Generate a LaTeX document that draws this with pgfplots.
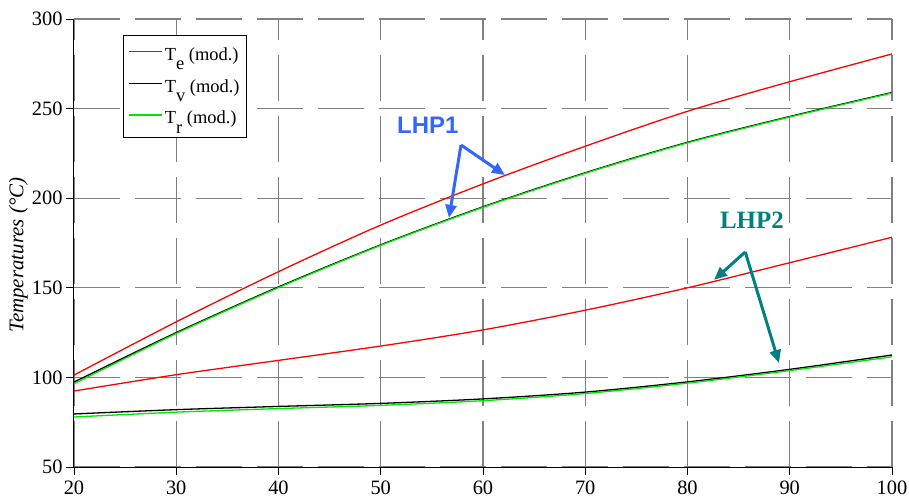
\documentclass[border=0pt]{standalone}
\usepackage{fontspec}
\setmainfont{Liberation Serif}
\newfontfamily\arialfont{Liberation Sans}
\usepackage{pgfplots}
\pgfplotsset{compat=1.18}
\usetikzlibrary{arrows.meta}
\definecolor{lhpblue}{RGB}{51,102,255}
\definecolor{lhpteal}{RGB}{0,128,128}
\definecolor{mygreen}{RGB}{0,230,0}
\newcommand{\sub}[1]{\raisebox{-0.5em}{#1}}
\begin{document}
\begin{tikzpicture}
\begin{axis}[
  scale only axis,
  width=818bp, height=448bp,
  xmin=20, xmax=100, ymin=50, ymax=300,
  xtick={20,30,...,100}, ytick={50,100,...,300},
  axis x line*=bottom, axis y line*=left,
  axis line style={-, black, line width=1bp},
  tick align=outside,
  major tick length=8bp,
  tick style={black, line width=0.8bp},
  grid=major,
  major grid style={gray, line width=1.2bp, dash pattern=on 46bp off 15bp},
  /pgf/number format/assume math mode=true,
  xticklabel={\fontsize{20.5}{24}\selectfont\pgfmathprintnumber[assume math mode=true]{\tick}},
  yticklabel={\fontsize{20.5}{24}\selectfont\pgfmathprintnumber[assume math mode=true]{\tick}},
  xticklabel shift=2bp,
  yticklabel shift=0bp,
  every axis y label/.style={at={(axis description cs:-0.0679,0.473)}, rotate=90, anchor=center},
  every axis x label/.style={at={(axis description cs:0.5,0)}, anchor=north, yshift=-33bp},
  ylabel={\fontsize{21}{24}\selectfont\itshape Temperatures (°C)},
  xlabel={\fontsize{21}{24}\selectfont\textit{Q} (W)},
  legend style={at={(axis description cs:0.0599,0.964)}, anchor=north west, draw=black, line width=0.8bp,
    font=\fontsize{18.5}{20}\selectfont, row sep=13.5bp, inner xsep=5bp, inner ysep=10bp, cells={anchor=west}},
  legend image code/.code={\draw[#1, line width=1.5bp] (0bp,0.3em) -- (33bp,0.3em);},
  every axis plot/.append style={line width=1.3bp, smooth},
]
% LHP1
\addplot[red] coordinates {(20,101.3)(30,131)(40,159)(50,185)(60,208)(70,229)(80,248.5)(90,265)(100,280.5)};
\addlegendentry{T\sub{e} (mod.)}
\addplot[black] coordinates {(20,97.4)(30,125)(40,150.5)(50,174)(60,195.2)(70,214.2)(80,231.2)(90,245.6)(100,259)};
\addlegendentry{T\sub{v} (mod.)}
\addplot[mygreen] coordinates {(20,96.4)(30,124.5)(40,150.1)(50,173.7)(60,194.9)(70,213.9)(80,230.9)(90,245.3)(100,258.7)};
\addlegendentry{T\sub{r} (mod.)}
% LHP2
\addplot[red, forget plot] coordinates {(20,92.4)(30,101.5)(40,109.5)(50,117.5)(60,126.5)(70,137.5)(80,150)(90,164)(100,178.2)};
\addplot[black, forget plot] coordinates {(20,79.6)(30,82)(40,83.8)(50,85.5)(60,88)(70,91.8)(80,97.5)(90,104.5)(100,112.5)};
\addplot[mygreen, forget plot] coordinates {(20,77.9)(30,80.6)(40,82.6)(50,84.4)(60,87)(70,91)(80,96.8)(90,103.8)(100,111.5)};
% annotations
\node[text=lhpblue, font=\arialfont\bfseries\fontsize{24}{27}\selectfont] at (axis cs:54.6,240.8) {LHP1};
\draw[lhpblue, line width=3bp, -{Triangle[length=13bp,width=11bp]}] (axis cs:57.85,229.7) -- (axis cs:62.15,212.9);
\draw[lhpblue, line width=3bp, -{Triangle[length=13bp,width=11bp]}] (axis cs:57.85,229.7) -- (axis cs:56.67,189.0);
\node[text=lhpteal, font=\bfseries\fontsize{25}{28}\selectfont] at (axis cs:86.3,187.8) {LHP2};
\draw[lhpteal, line width=3bp, -{Triangle[length=13bp,width=11bp]}] (axis cs:85.65,170.0) -- (axis cs:82.6,154.4);
\draw[lhpteal, line width=3bp, -{Triangle[length=13bp,width=11bp]}] (axis cs:85.65,170.0) -- (axis cs:88.95,108.0);
\end{axis}
\pgfresetboundingbox
\path (-74bp,-36bp) rectangle (835bp,467bp);
\end{tikzpicture}
\end{document}
